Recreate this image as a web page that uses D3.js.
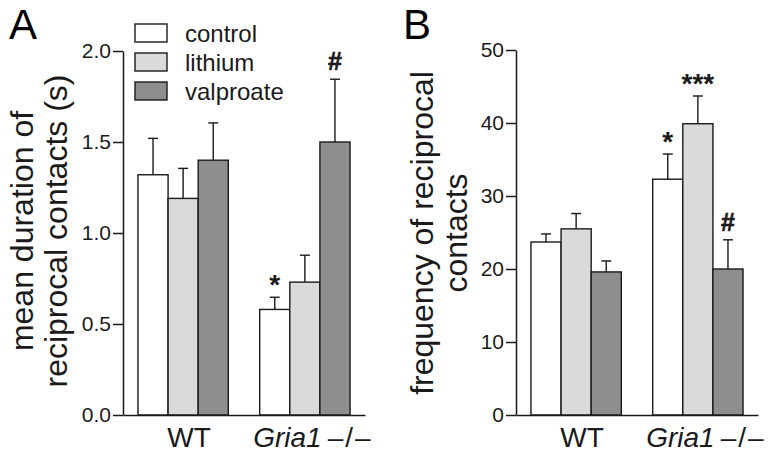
<!DOCTYPE html>
<html>
<head>
<meta charset="utf-8">
<script src="https://cdn.jsdelivr.net/npm/d3@7"></script>
<style>
  html, body { margin: 0; padding: 0; background: #fff; }
  svg { display: block; font-family: Arial, "Liberation Sans", Helvetica, sans-serif; }
</style>
</head>
<body>
<svg id="chart" width="777" height="464"></svg>
<script>
// ---- data ----
const groups = ["WT", "Gria1"];
const treatments = ["control", "lithium", "valproate"];
const durationMean = [[1.32, 1.19, 1.40], [0.58, 0.73, 1.50]];
const durationSem  = [[0.20, 0.165, 0.205], [0.067, 0.148, 0.345]];
const freqMean = [[23.7, 25.5, 19.6], [32.3, 39.9, 20.0]];
const freqSem  = [[1.1, 2.1, 1.5], [3.45, 3.8, 4.0]];
const durationTicks = [0, 0.5, 1.0, 1.5, 2.0];
const freqTicks = [0, 10, 20, 30, 40, 50];
const durationNotes = [{g: 1, t: 0, s: "*"}, {g: 1, t: 2, s: "#"}];
const freqNotes = [{g: 1, t: 0, s: "*"}, {g: 1, t: 1, s: "***"}, {g: 1, t: 2, s: "#"}];
const fills = {control: "#ffffff", lithium: "#dadada", valproate: "#8e8e8e"};

const svg = d3.select("#chart");
const ink = "#1a1a1a";

function panel(opts) {
  const g = svg.append("g");
  const x = d3.scaleBand().domain(groups).range([opts.x0, opts.x1])
    .paddingInner(0.258).paddingOuter(0.123);
  const xi = d3.scaleBand().domain(treatments).range([0, x.bandwidth()]).padding(0);
  const y = d3.scaleLinear().domain(opts.domain).range([415, opts.yTop]);

  // bars
  groups.forEach((gr, gi) => {
    treatments.forEach((tr, ti) => {
      const m = opts.mean[gi][ti], s = opts.sem[gi][ti];
      const bx = x(gr) + xi(tr);
      const cx = bx + xi.bandwidth() / 2;
      // error bar
      g.append("line").attr("x1", cx).attr("x2", cx)
        .attr("y1", y(m)).attr("y2", y(m + s))
        .attr("stroke", ink).attr("stroke-width", 1.4);
      g.append("line").attr("x1", cx - 5).attr("x2", cx + 5)
        .attr("y1", y(m + s)).attr("y2", y(m + s))
        .attr("stroke", ink).attr("stroke-width", 1.4);
      g.append("rect").attr("x", bx).attr("y", y(m))
        .attr("width", xi.bandwidth()).attr("height", y(0) - y(m))
        .attr("fill", fills[tr]).attr("stroke", ink).attr("stroke-width", 1.4);
    });
  });

  // annotations
  opts.notes.forEach(n => {
    const gr = groups[n.g], tr = treatments[n.t];
    const cx = x(gr) + xi(tr) + xi.bandwidth() / 2;
    const top = y(opts.mean[n.g][n.t] + opts.sem[n.g][n.t]);
    const isHash = n.s === "#";
    g.append("text").attr("x", cx).attr("y", top - (isHash ? 9 : 3))
      .attr("text-anchor", "middle")
      .attr("font-weight", "bold")
      .attr("font-size", isHash ? 25 : 28)
      .attr("stroke", isHash ? ink : "none").attr("stroke-width", isHash ? 0.6 : 0)
      .attr("fill", ink)
      .text(n.s);
  });

  // y axis
  const ya = g.append("g").attr("transform", `translate(${opts.x0},0)`)
    .call(d3.axisLeft(y).tickValues(opts.ticks).tickFormat(opts.fmt)
      .tickSize(10).tickSizeOuter(0).tickPadding(2));
  ya.selectAll("path, line").attr("stroke", ink).attr("stroke-width", 1.5);
  ya.selectAll("text").attr("font-size", 21).attr("fill", ink)
    .attr("font-family", "Arial, 'Liberation Sans', sans-serif");

  // x axis line
  const xa = g.append("g").attr("transform", "translate(0,415)")
    .call(d3.axisBottom(x).tickSize(0).tickSizeOuter(0).tickFormat(""));
  xa.select("path").attr("stroke", ink).attr("stroke-width", 1.5);

  // x labels
  g.append("text").attr("x", x("WT") + x.bandwidth() / 2 + 6).attr("y", 447)
    .attr("text-anchor", "middle").attr("font-size", 28).attr("fill", ink).text("WT");
  const gl = g.append("text").attr("x", x("Gria1") + x.bandwidth() / 2 + 8).attr("y", 447)
    .attr("text-anchor", "middle").attr("font-size", 28).attr("fill", ink);
  gl.append("tspan").attr("font-style", "italic").text("Gria1");
  gl.append("tspan").attr("dx", 6).attr("letter-spacing", 2).text("\u2013/\u2013");

  // y title
  opts.title.forEach((t, i) => {
    g.append("text")
      .attr("transform", `translate(${opts.titleX[i]},${opts.titleY}) rotate(-90)`)
      .attr("text-anchor", "middle").attr("font-size", 32).attr("fill", ink).text(t);
  });

  // panel letter
  g.append("text").attr("x", opts.letterX).attr("y", 39).attr("font-size", 42)
    .attr("fill", "#000").text(opts.letter);
  return {x, y, xi};
}

const pA = panel({
  x0: 123, x1: 365, domain: [0, 2], yTop: 51,
  mean: durationMean, sem: durationSem, notes: durationNotes,
  ticks: durationTicks, fmt: d3.format(".1f"),
  title: ["mean duration of", "reciprocal contacts (s)"], titleX: [33, 67], titleY: 231,
  letter: "A", letterX: 9
});
const pB = panel({
  x0: 516, x1: 758, domain: [0, 50], yTop: 50,
  mean: freqMean, sem: freqSem, notes: freqNotes,
  ticks: freqTicks, fmt: d3.format("d"),
  title: ["frequency of reciprocal", "contacts"], titleX: [433, 467], titleY: 233,
  letter: "B", letterX: 403
});

// legend
const leg = svg.append("g");
const ly = d3.scalePoint().domain(treatments).range([24, 82]);
treatments.forEach(tr => {
  leg.append("rect").attr("x", 135).attr("y", ly(tr)).attr("width", 32).attr("height", 18)
    .attr("fill", fills[tr]).attr("stroke", ink).attr("stroke-width", 1.4);
  leg.append("text").attr("x", 185).attr("y", ly(tr) + 18).attr("font-size", 24)
    .attr("fill", ink).text(tr);
});
</script>
</body>
</html>
